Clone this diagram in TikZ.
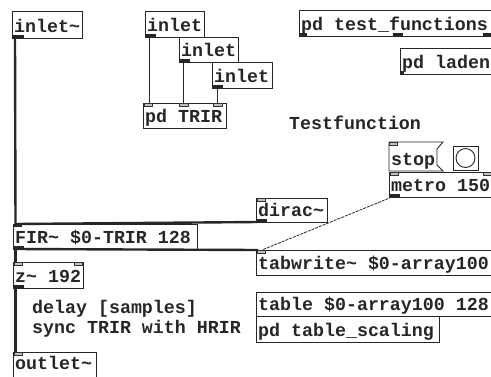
\documentclass[tikz,border=0pt]{standalone}
\usepackage{fontspec}
\newfontfamily\pdfont{Liberation Mono}
\tikzset{
  box/.style={draw=black!85, line width=0.9pt, fill=white, inner sep=0pt, outer sep=0pt, anchor=north west},
  lbl/.style={font={\pdfont\bfseries\fontsize{18.3}{20}\selectfont}, inner sep=0pt, anchor=base west, text=black!85},
  sig/.style={line width=2.4pt, draw=black!85},
  ctl/.style={line width=0.8pt, draw=black!85, dash pattern=on 3pt off 1pt},
  inport/.style={fill=black!25, draw=black!80, line width=0.5pt},
  outport/.style={fill=black!85},
}
\newcommand\pdbox[6]{%
  \node[box, minimum width=#4pt, minimum height=#5pt] (#1) at (#2,#3) {};
  \node[lbl] (#1-t) at ([xshift=2pt,yshift=6pt]#1.south west) {#6};}
\newcommand\inp[3]{\filldraw[inport] ([xshift=#2pt]#1.north west) rectangle ++(#3,3);}
\newcommand\outp[3]{\fill[outport] ([xshift=#2pt]#1.south west) rectangle ++(#3,-3);}
\newcommand\sinp[3]{\fill[outport] ([xshift=#2pt]#1.north west) rectangle ++(#3,3);}
\begin{document}
\begin{tikzpicture}[x=1pt, y=-1pt]
\useasboundingbox (0,0) rectangle (491,376);

% objects
\pdbox{inS}{12}{11}{70}{27}{inlet\textasciitilde}
\pdbox{inA}{145}{11}{59}{26}{inlet}
\pdbox{inB}{179}{37}{59}{25}{inlet}
\pdbox{inC}{212}{62}{60}{26}{inlet}
\pdbox{trir}{143}{103}{83}{25}{pd TRIR}
\pdbox{testf}{299}{10}{200}{26}{pd test\_functions}
\pdbox{laden}{400}{48}{100}{26}{pd laden}
\node[lbl] (tfc) at (289,129) {Testfunction};

% stop message box
\draw[draw=black!85, line width=0.9pt, fill=white] (389,142) -- (443,142) -- (437,149) -- (437,165) -- (443,171) -- (389,171) -- cycle;
\coordinate (stopsw) at (389,171);
\node[lbl] (stop) at ([xshift=2pt,yshift=6pt]stopsw) {stop};
% bang
\node[box, minimum width=25pt, minimum height=24pt] (bang) at (453,146) {};
\draw[black!85, line width=0.9pt] (bang.center) circle (9.5);

\pdbox{metro}{389}{172}{110}{25}{metro 150}
\pdbox{dirac}{256}{198}{71}{24}{dirac\textasciitilde}
\pdbox{fir}{13}{224}{184}{25}{FIR\textasciitilde{} \$0-TRIR 128}
\pdbox{tabw}{256}{250}{240}{25}{tabwrite\textasciitilde{} \$0-array100}
\pdbox{table}{256}{292}{240}{24}{table \$0-array100 128}
\pdbox{tscal}{256}{316}{183}{26}{pd table\_scaling}
\pdbox{zdel}{13}{262}{70}{26}{z\textasciitilde{} 192}
\node[box, minimum width=83pt, minimum height=26pt] (outS) at (13,352) {};
\node[lbl] (outS-t) at (15,369.5) {outlet\textasciitilde};
\node[lbl] (c1) at (32,313) {delay [samples]};
\node[lbl] (c2) at (32,333) {sync TRIR with HRIR};

% ports
\outp{inS}{1}{11}
\outp{inA}{1}{10}
\outp{inB}{1}{10}
\outp{inC}{1}{10}
\inp{trir}{1}{8}
\inp{trir}{36}{9}
\inp{trir}{70}{9}
\outp{testf}{1}{7}
\outp{testf}{94}{10}
\outp{testf}{184}{8}
\outp{laden}{1}{3}
\filldraw[inport] (389.5,142.5) rectangle ++(8,3);
\inp{metro}{1}{8}
\inp{metro}{94}{10}
\outp{metro}{1}{10}
\inp{dirac}{1}{8}
\outp{dirac}{1}{10}
\sinp{fir}{1}{8}
\outp{fir}{1}{10}
\inp{tabw}{1}{8}
\inp{zdel}{1}{8}
\inp{zdel}{61}{8}
\outp{zdel}{1}{10}
\inp{outS}{1}{8}

% connections
\draw[sig] ([xshift=3pt]inS.south west) -- ([xshift=2.5pt]fir.north west);
\draw[ctl, solid] ([xshift=4pt]inA.south west) -- ([xshift=6pt]trir.north west);
\draw[ctl, solid] ([xshift=4pt]inB.south west) -- ([xshift=40pt]trir.north west);
\draw[ctl, solid] ([xshift=5pt]inC.south west) -- ([xshift=74pt]trir.north west);
\draw[sig] ([xshift=1.5pt]dirac.south west) -- ([xshift=2.5pt]fir.north west);
\draw[sig] ([xshift=2.5pt]fir.south west) -- ([xshift=2pt]tabw.north west);
\draw[sig] ([xshift=2.5pt]fir.south west) -- ([xshift=2.5pt]zdel.north west);
\draw[sig] ([xshift=2.5pt]zdel.south west) -- ([xshift=2.5pt]outS.north west);
\draw[ctl] ([xshift=3pt]metro.south west) -- ([xshift=6pt]tabw.north west);
\end{tikzpicture}
\end{document}
